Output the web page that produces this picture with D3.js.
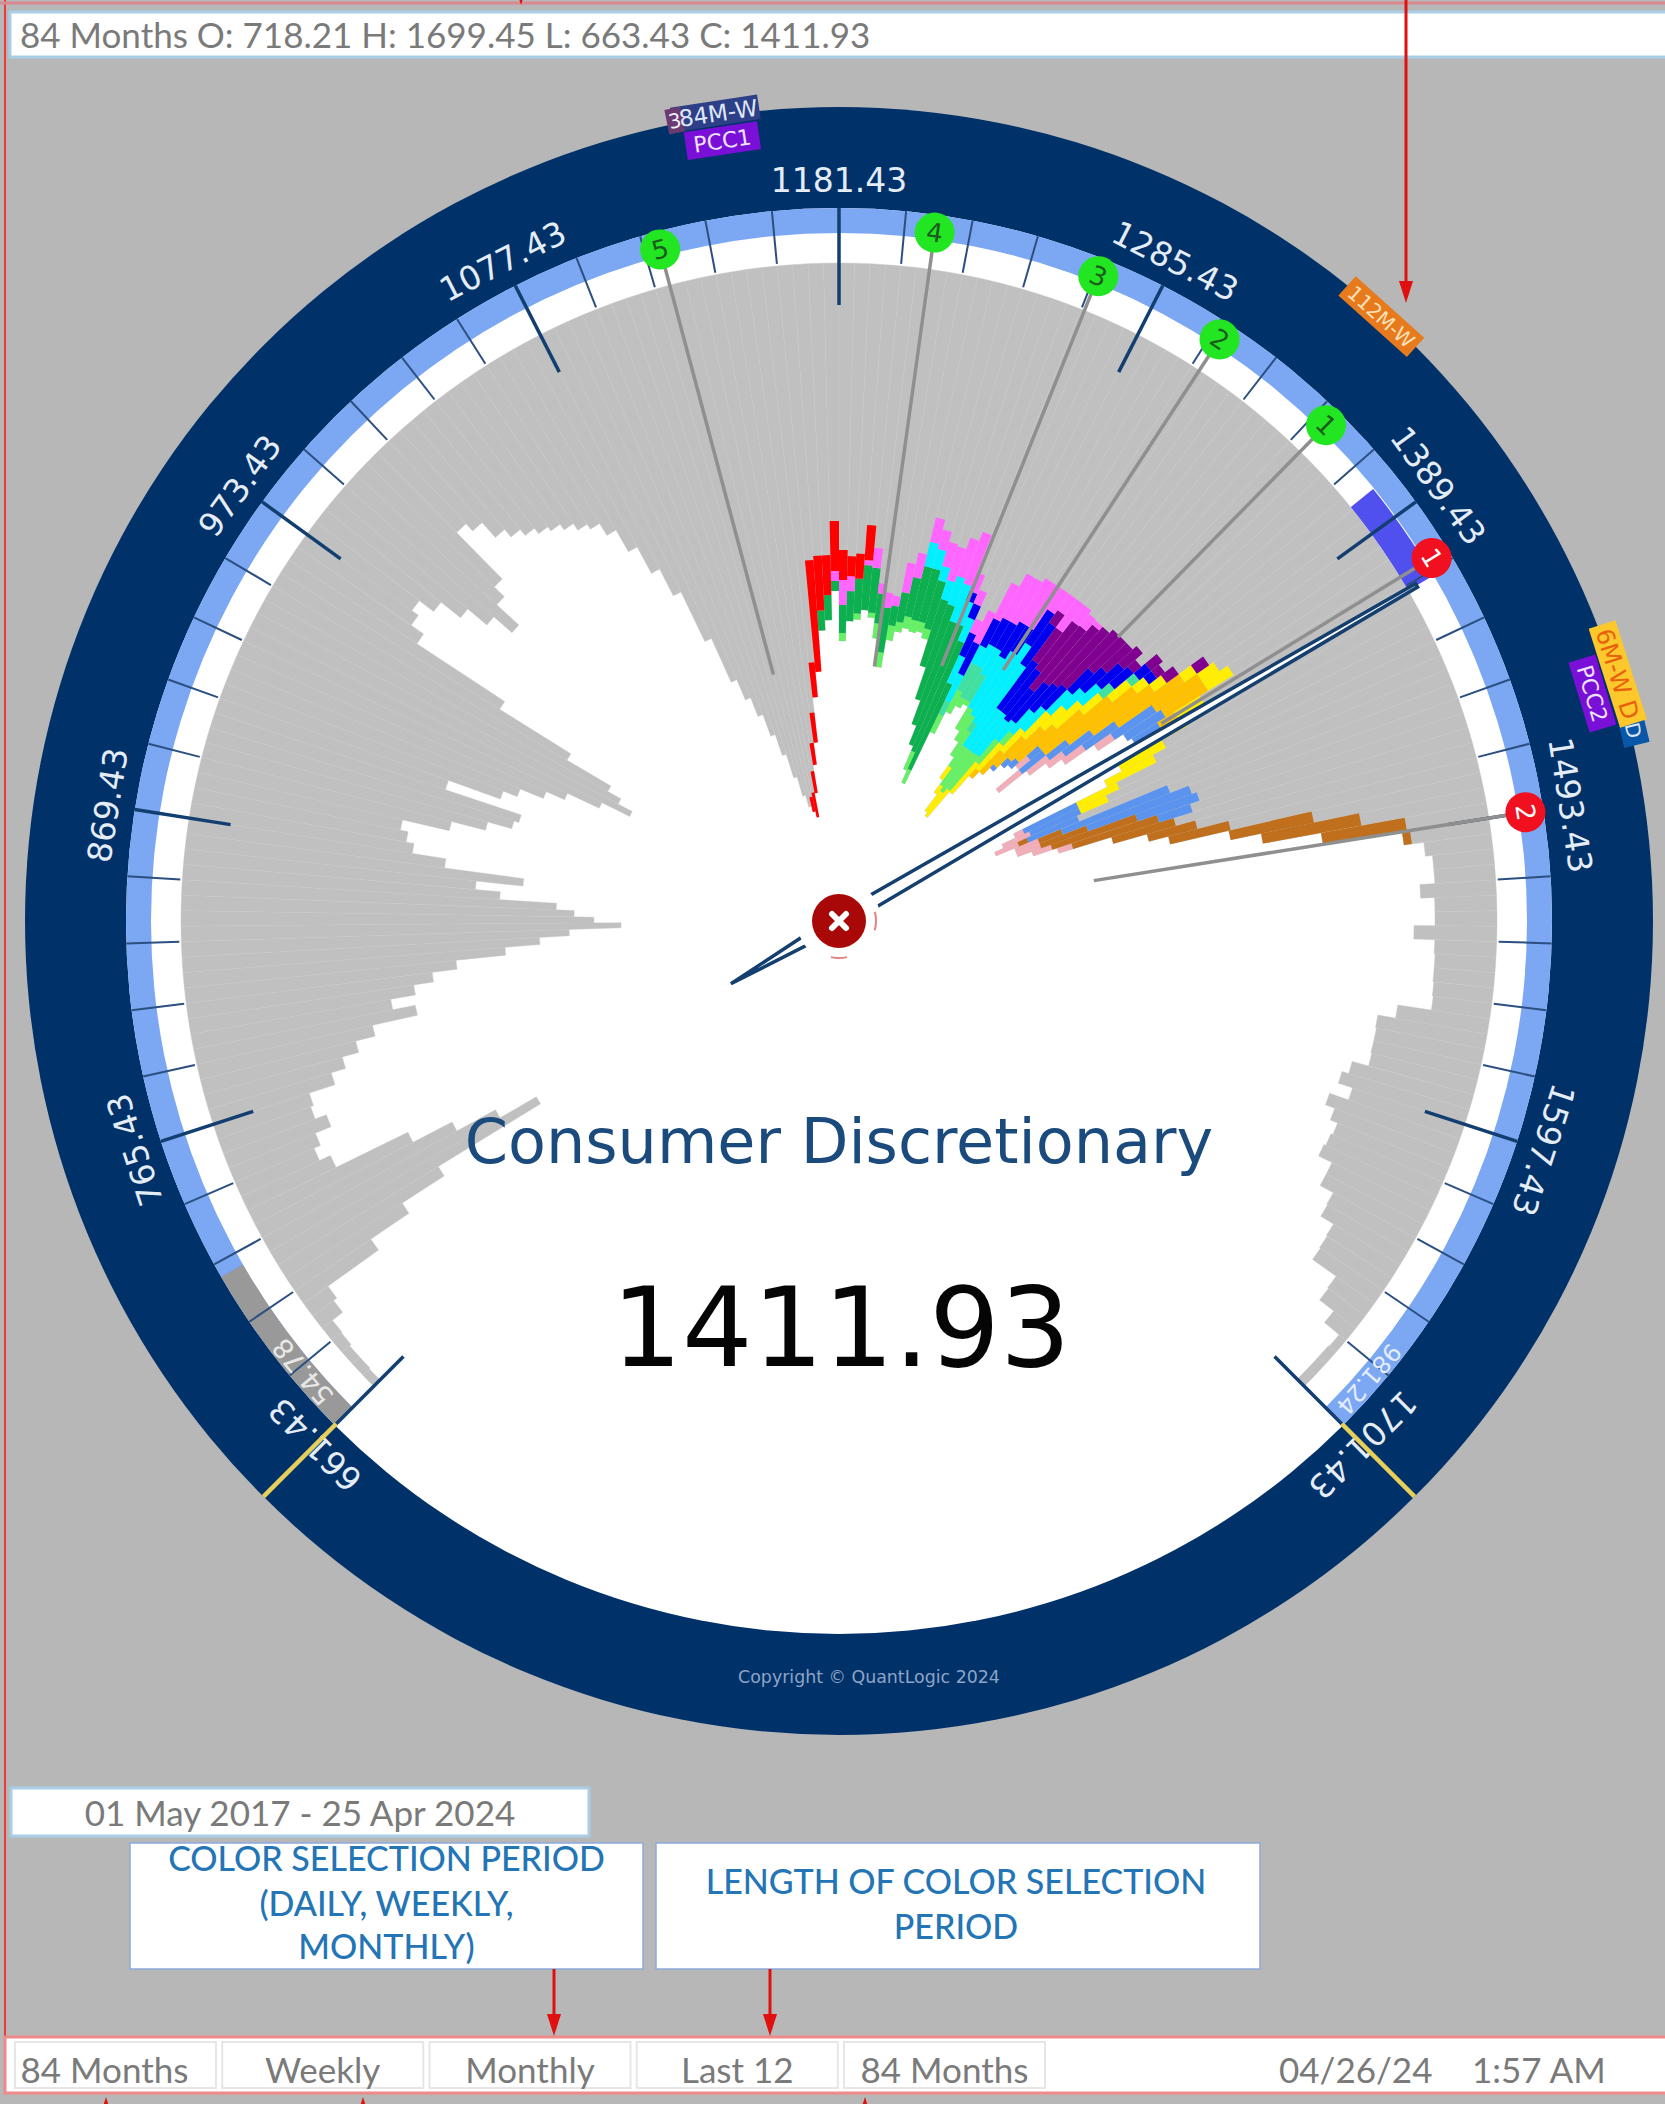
<!DOCTYPE html>
<html>
<head>
<meta charset="utf-8">
<script src="https://d3js.org/d3.v7.min.js"></script>
<style>
  html, body { margin: 0; padding: 0; background: #b7b7b7; }
  svg { display: block; }
  .ui { font-family: Lato, sans-serif; }
  .dial { font-family: "DejaVu Sans", sans-serif; }
</style>
</head>
<body>
<script>
// price range of the dial
var priceMin = 661.43;
var priceMax = 1701.43;
var lastClose = 1411.93;
var binSize = 5.2;

// labelled ticks on the dial
var majorTicks = [661.43, 765.43, 869.43, 973.43, 1077.43, 1181.43, 1285.43, 1389.43, 1493.43, 1597.43, 1701.43];

// total length of each price bin, lowest price first
var barLength = [
  9, 10, 10, 12, 13, 26, 30, 92, 138, 188,
  308, 266, 222, 178, 98, 86, 93, 110, 98, 101,
  128, 143, 160, 180, 226, 203, 228, 248, 273, 323,
  358, 388, 440, 413, 393, 375, 318, 293, 340, 260,
  226, 218, 210, 258, 293, 318, 323, 243, 298, 313,
  338, 358, 393, 424, 408, 393, 342, 258, 153, 138,
  130, 148, 173, 198, 222, 192, 178, 113, 123, 143,
  153, 161, 168, 173, 180, 188, 194, 208, 233, 263,
  293, 348, 396, 418, 438, 461, 483, 508, 528, 540,
  546, 552, 528, 500, 478, 433, 408, 367, 357, 328,
  378, 358, 356, 346, 353, 373, 401, 373, 363, 358,
  360, 358, 363, 390, 423, 448, 468, 493, 506, 448,
  423, 413, 408, 433, 443, 458, 483, 498, 518, 522,
  488, 463, 453, 443, 433, 428, 423, 453, 418, 398,
  383, 348, 318, 313, 318, 338, 358, 463, 478, 488,
  468, 468, 453, 428, 373, 338, 318, 258, 227, 168,
  88, 68, 61, 61, 76, 62, 62, 83, 62, 61,
  61, 60, 59, 93, 111, 110, 110, 109, 126, 133,
  118, 138, 128, 120, 122, 124, 109, 109, 94, 93,
  78, 77, 76, 47, 46, 28, 9, 10, 10, 10
];

// coloured period bands, each one starts at the bin given by its *From value
var salmonFrom = 136;
var salmonBand = [15, 30, 25, 20, 25, 20, 0, 0, 0, 0, 0, 10, 30, 25, 25, 25, 20, 15];
var brownFrom = 149;
var brownBand = [10, 25, 50, 90, 90, 65, 50, 62, 85, 100, 85, 8];
var cornflowerFrom = 133;
var cornflowerBand = [5, 10, 10, 15, 30, 25, 35, 40, 50, 45, 30, 0, 0, 0, 60, 55, 55, 115, 110, 65, 35];
var orangeFrom = 131;
var orangeBand = [10, 30, 40, 45, 50, 55, 85, 85, 75, 80, 55, 50, 20];
var yellowFrom = 126;
var yellowBand = [15, 10, 25, 35, 40, 35, 30, 35, 30, 35, 25, 25, 15, 15, 15, 20, 30, 30, 60, 50, 55, 45, 30];
var limeFrom = 100;
var limeBand = [8, 0, 6, 0, 5, 15, 15, 15, 10, 12, 12, 10, 10, 0, 0, 0, 0, 20, 15, 20, 25, 10, 5, 25, 30, 30, 25, 45, 50, 45, 30, 15];
var seafoamFrom = 119;
var seafoamBand = [15, 30, 35, 30, 0, 0, 10, 0, 0, 0, 0, 0, 0, 0, 0, 0, 0, 15, 10];
var greenFrom = 97;
var greenBand = [20, 25, 10, 28, 30, 35, 45, 45, 30, 45, 20, 30, 40, 55, 55, 50, 70, 100, 110, 130, 120, 95];
var cyanFrom = 110;
var cyanBand = [25, 20, 15, 20, 30, 40, 25, 25, 30, 30, 20, 25, 30, 60, 75, 95, 100, 50, 50, 45, 25, 30, 30, 30, 25, 25];
var blueFrom = 116;
var blueBand = [10, 15, 25, 35, 30, 30, 30, 40, 30, 40, 50, 60, 55, 40, 50, 35, 30, 30, 30, 30, 25, 15, 10];
var purpleFrom = 126;
var purpleBand = [15, 40, 60, 80, 75, 75, 75, 45, 35, 25, 10, 15, 10, 15, 15];
var magentaFrom = 99;
var magentaBand = [10, 25, 15, 0, 5, 20, 10, 15, 10, 30, 25, 25, 20, 25, 35, 40, 55, 20, 15, 15, 35, 40, 50, 50, 50, 50, 25, 20, 35, 20, 15, 5];
var redFrom = 90;
var redBand = [15, 25, 22, 22, 30, 35, 112, 55, 40, 50, 30, 20, 25, 35];

// numbered levels and their line lengths
var greenLevels = [1352.8, 1309.3, 1265.8, 1211.9, 1124];
var greenLevelLength = [260, 358, 383, 401, 403];
var redLevels = [1406.8, 1493.4];
var redLevelLength = [280, 400];

// start of the marker on the white ring
var rangeFrom = 1378;

var width = 1665;
var height = 2104;

// dial measures
var cx = 839;
var cy = 921;
var rBars = 658;
var rWhite = 688;
var rBlue = 713;
var rNavy = 814;

var svg = d3.select("body").append("svg")
  .attr("width", width)
  .attr("height", height);

svg.append("rect").attr("width", width).attr("height", height).attr("fill", "#b7b7b7");

// outer red frame lines
svg.append("line").attr("x1", 5).attr("x2", 5).attr("y1", 0).attr("y2", 2036).attr("stroke", "#f03a3a").attr("stroke-width", 2);
svg.append("line").attr("x1", 0).attr("x2", width).attr("y1", 3).attr("y2", 3).attr("stroke", "#d88a90").attr("stroke-width", 3);

var angle = d3.scaleLinear().domain([priceMin, priceMax]).range([-Math.PI * 0.75, Math.PI * 0.75]);
var deg = d3.scaleLinear().domain([priceMin, priceMax]).range([-135, 135]);
var radial = d3.scaleLinear().domain([0, rBars]).range([rBars, 0]);

var dial = svg.append("g").attr("class", "dial").attr("transform", `translate(${cx}, ${cy})`);
var arc = d3.arc();

// navy ring and the white disc inside
dial.append("circle").attr("r", rNavy).attr("fill", "#003169");
dial.append("circle").attr("r", rBlue).attr("fill", "#ffffff");

// light blue scale ring, its first part is grey
dial.append("path")
  .attr("d", arc({ innerRadius: rWhite, outerRadius: rBlue, startAngle: angle(priceMin), endAngle: angle(priceMax) }))
  .attr("fill", "#7ba7f3");
dial.append("path")
  .attr("d", arc({ innerRadius: rWhite, outerRadius: rBlue, startAngle: angle(priceMin), endAngle: angle(priceMin + 58) }))
  .attr("fill", "#999999");

// marker on the white ring
dial.append("path")
  .attr("d", arc({ innerRadius: rBars, outerRadius: rWhite - 1, startAngle: angle(rangeFrom), endAngle: angle(lastClose) }))
  .attr("fill", "#5050ee");

// grey bars
var barAngle = i => priceMin + i * binSize;
dial.append("g").selectAll("path")
  .data(barLength)
  .enter()
  .append("path")
  .attr("d", (d, i) => arc({
    innerRadius: radial(d),
    outerRadius: rBars,
    startAngle: angle(barAngle(i)),
    endAngle: angle(barAngle(i + 1))
  }))
  .attr("fill", "#c0c0c0")
  .attr("stroke", "#c4c4c4")
  .attr("stroke-width", 0.4);

// coloured bands, stacked from the inner end of each bar
var bandSeries = [
  { key: "salmon", color: "#f2aeb8", from: salmonFrom, values: salmonBand },
  { key: "brown", color: "#c0701c", from: brownFrom, values: brownBand },
  { key: "cornflower", color: "#5b94ee", from: cornflowerFrom, values: cornflowerBand },
  { key: "orange", color: "#ffc000", from: orangeFrom, values: orangeBand },
  { key: "yellow", color: "#ffee00", from: yellowFrom, values: yellowBand },
  { key: "lime", color: "#66f066", from: limeFrom, values: limeBand },
  { key: "seafoam", color: "#3fe0a0", from: seafoamFrom, values: seafoamBand },
  { key: "green", color: "#0db04f", from: greenFrom, values: greenBand },
  { key: "cyan", color: "#00f0ff", from: cyanFrom, values: cyanBand },
  { key: "blue", color: "#0000f0", from: blueFrom, values: blueBand },
  { key: "purple", color: "#800090", from: purpleFrom, values: purpleBand },
  { key: "magenta", color: "#ff66ff", from: magentaFrom, values: magentaBand },
  { key: "red", color: "#ff0000", from: redFrom, values: redBand }
];

var rows = barLength.map(function(d, i) {
  var row = { bin: i, total: d };
  bandSeries.forEach(function(s) {
    row[s.key] = s.values[i - s.from] || 0;
  });
  return row;
});

var stacked = d3.stack().keys(bandSeries.map(s => s.key))(rows);

stacked.forEach(function(layer, n) {
  dial.append("g").selectAll("path")
    .data(layer.filter(d => d[1] > d[0]))
    .enter()
    .append("path")
    .attr("d", d => arc({
      innerRadius: radial(d.data.total - d[0]),
      outerRadius: radial(d.data.total - d[1]),
      startAngle: angle(barAngle(d.data.bin)),
      endAngle: angle(barAngle(d.data.bin + 1))
    }))
    .attr("fill", bandSeries[n].color);
});

// small scale ticks
var minorTicks = d3.range(priceMin, priceMax + 1, binSize * 4);
dial.append("g").selectAll("line")
  .data(minorTicks)
  .enter()
  .append("line")
  .attr("transform", d => `rotate(${deg(d)})`)
  .attr("y1", -rBars - 2)
  .attr("y2", -rBlue)
  .attr("stroke", "#2b4f80")
  .attr("stroke-width", 2);

// big scale ticks and their labels
dial.append("g").selectAll("line")
  .data(majorTicks)
  .enter()
  .append("line")
  .attr("transform", d => `rotate(${deg(d)})`)
  .attr("y1", -616)
  .attr("y2", -rBlue)
  .attr("stroke", "#123f70")
  .attr("stroke-width", 3.5);

dial.append("g").selectAll("text")
  .data(majorTicks)
  .enter()
  .append("text")
  .attr("transform", d => `rotate(${deg(d)}) translate(0, ${-rBlue - 16})`)
  .attr("text-anchor", "middle")
  .attr("font-size", 33)
  .attr("fill", "#e4ecf6")
  .text(d => d.toFixed(2));

// yellow end lines
dial.append("g").selectAll("line")
  .data([priceMin, priceMax])
  .enter()
  .append("line")
  .attr("transform", d => `rotate(${deg(d)})`)
  .attr("y1", -rBlue + 2)
  .attr("y2", -rNavy)
  .attr("stroke", "#e8cf5a")
  .attr("stroke-width", 4.5);

// small period values on the ring ends
dial.append("text")
  .attr("transform", `rotate(${deg(priceMin + 19)}) translate(0, ${-rWhite - 3})`)
  .attr("text-anchor", "middle")
  .attr("font-size", 27)
  .attr("fill", "#e8e8e8")
  .text("54.78");
dial.append("text")
  .attr("transform", `rotate(${deg(priceMax - 16)}) translate(0, ${-rWhite - 4})`)
  .attr("text-anchor", "middle")
  .attr("font-size", 24)
  .attr("fill", "#e4edff")
  .text("981.24");

// level lines and numbered circles
function levelMark(price, length, color, textColor, label) {
  var g = dial.append("g").attr("transform", `rotate(${deg(price)})`);
  g.append("line")
    .attr("y1", -radial(length))
    .attr("y2", -695)
    .attr("stroke", "#8f8f8f")
    .attr("stroke-width", 3.5);
  g.append("circle").attr("cy", -695).attr("r", 20).attr("fill", color);
  g.append("text")
    .attr("y", -695 + 9)
    .attr("text-anchor", "middle")
    .attr("font-size", 26)
    .attr("fill", textColor)
    .text(label);
}

// needle under the level lines
var needle = dial.append("g").attr("transform", `rotate(${deg(lastClose)})`);
needle.append("path")
  .attr("d", d3.line()([[0, 125], [-7, 0], [-2, -668], [2, -668], [7, 0]]) + "Z")
  .attr("fill", "#ffffff")
  .attr("stroke", "#143f6e")
  .attr("stroke-width", 3.5);

greenLevels.forEach(function(d, i) {
  levelMark(d, greenLevelLength[i], "#22e622", "#1c5c1c", String(i + 1));
});
redLevels.forEach(function(d, i) {
  levelMark(d, redLevelLength[i], "#f01020", "#ffffff", String(i + 1));
});

// period badges on the outer edge of the ring
function badge(rot, r, w, h, fill, color, label, size) {
  var g = dial.append("g").attr("transform", `rotate(${rot}) translate(0, ${-r})`);
  g.append("rect").attr("x", -w / 2).attr("y", -h / 2).attr("width", w).attr("height", h).attr("fill", fill);
  g.append("text")
    .attr("y", size * 0.36)
    .attr("text-anchor", "middle")
    .attr("font-size", size)
    .attr("fill", color)
    .text(label);
  return g;
}

badge(41.9, 812, 92, 26, "#e67a1c", "#f8e0b8", "112M-W", 20);
badge(-8.7, 817, 88, 25, "#2d3f86", "#dfe6f6", "", 23);
badge(-11.6, 817, 16, 25, "#6a3a70", "#eef0f8", "3", 20);
// the 84M-W text runs over the small box
badge(-8.5, 817, 88, 25, "none", "#dfe6f6", "84M-W", 23);
badge(-8.5, 789, 74, 28, "#7a10d8", "#efe4ff", "PCC1", 22);
badge(76.5, 817, 30, 26, "#0a56a8", "#dfe6f6", "D", 20);
badge(72.4, 817, 104, 28, "#fcc82c", "#e8600c", "6M-W D", 24);
badge(73.2, 787, 73, 28, "#7a10d8", "#efe4ff", "PCC2", 22);

// white disc and close button in the centre
dial.append("circle").attr("r", 42).attr("fill", "#ffffff");
dial.append("path")
  .attr("d", arc({ innerRadius: 36, outerRadius: 38, startAngle: Math.PI * 0.42, endAngle: Math.PI * 0.58 }))
  .attr("fill", "#e88080");
dial.append("path")
  .attr("d", arc({ innerRadius: 36, outerRadius: 38, startAngle: Math.PI * 0.93, endAngle: Math.PI * 1.07 }))
  .attr("fill", "#e88080");
dial.append("circle").attr("r", 27).attr("fill", "#a80808");
dial.append("path")
  .attr("d", "M-7,-7L7,7M-7,7L7,-7")
  .attr("stroke", "#ffffff")
  .attr("stroke-width", 6)
  .attr("stroke-linecap", "round");

// centre texts
svg.append("text")
  .attr("class", "dial")
  .attr("x", 839)
  .attr("y", 1163)
  .attr("text-anchor", "middle")
  .attr("font-size", 62)
  .attr("fill", "#1b4a7c")
  .text("Consumer Discretionary");

svg.append("text")
  .attr("class", "dial")
  .attr("x", 841)
  .attr("y", 1366)
  .attr("text-anchor", "middle")
  .attr("font-size", 111)
  .attr("fill", "#050505")
  .text(lastClose.toFixed(2));

svg.append("text")
  .attr("class", "dial")
  .attr("x", 869)
  .attr("y", 1683)
  .attr("text-anchor", "middle")
  .attr("font-size", 17.4)
  .attr("fill", "#8ea4c6")
  .text("Copyright © QuantLogic 2024");

// header bar
svg.append("rect").attr("x", 10).attr("y", 12).attr("width", width).attr("height", 45)
  .attr("fill", "#ffffff").attr("stroke", "#a9cfe6").attr("stroke-width", 3);
svg.append("text").attr("class", "ui").attr("x", 20).attr("y", 48)
  .attr("font-size", 35).attr("fill", "#7a7a7a")
  .text("84 Months O: 718.21 H: 1699.45 L: 663.43 C: 1411.93");

// date box
svg.append("rect").attr("x", 11).attr("y", 1788).attr("width", 578).attr("height", 48)
  .attr("fill", "#ffffff").attr("stroke", "#a9cfe6").attr("stroke-width", 3);
svg.append("text").attr("class", "ui").attr("x", 300).attr("y", 1826).attr("text-anchor", "middle")
  .attr("font-size", 35).attr("fill", "#7a7a7a")
  .text("01 May 2017 - 25 Apr 2024");

// callouts
var calloutBoxes = [
  { x: 130, w: 513, lines: ["COLOR SELECTION PERIOD", "(DAILY, WEEKLY,", "MONTHLY)"], ys: [1871, 1916, 1959] },
  { x: 656, w: 604, lines: ["LENGTH OF COLOR SELECTION", "PERIOD"], ys: [1894, 1939] }
];
calloutBoxes.forEach(function(b) {
  svg.append("rect").attr("x", b.x).attr("y", 1843).attr("width", b.w).attr("height", 126)
    .attr("fill", "#ffffff").attr("stroke", "#8faadc").attr("stroke-width", 1.5);
  b.lines.forEach(function(t, i) {
    svg.append("text").attr("class", "ui").attr("x", b.x + b.w / 2 - (b.x > 600 ? 2 : 0)).attr("y", b.ys[i]).attr("text-anchor", "middle")
      .attr("font-size", 34).attr("font-weight", 500).attr("fill", "#2475b5").text(t);
  });
});

// bottom bar
svg.append("rect").attr("x", 5).attr("y", 2037).attr("width", width).attr("height", 56)
  .attr("fill", "#ffffff").attr("stroke", "#f08a8a").attr("stroke-width", 3);

var buttonLabels = ["84 Months", "Weekly", "Monthly", "Last 12", "84 Months"];
var buttonX = d3.scaleBand().domain(d3.range(5)).range([15, 1045]).paddingInner(0.03);
buttonLabels.forEach(function(t, i) {
  svg.append("rect").attr("x", buttonX(i)).attr("y", 2042).attr("width", buttonX.bandwidth()).attr("height", 46)
    .attr("fill", "#ffffff").attr("stroke", "#e6e6e6").attr("stroke-width", 2);
  // first label sits further left in its button
  svg.append("text").attr("class", "ui").attr("x", buttonX(i) + buttonX.bandwidth() / 2 - (i === 0 ? 11 : 0)).attr("y", 2083).attr("text-anchor", "middle")
    .attr("font-size", 35).attr("fill", "#7a7a7a").text(t);
});
svg.append("text").attr("class", "ui").attr("x", 1279).attr("y", 2083)
  .attr("font-size", 35).attr("fill", "#7a7a7a").text("04/26/24");
svg.append("text").attr("class", "ui").attr("x", 1472).attr("y", 2083)
  .attr("font-size", 35).attr("fill", "#7a7a7a").text("1:57 AM");

// red annotation arrows
function arrow(x, y1, y2) {
  var dir = y2 > y1 ? 1 : -1;
  svg.append("line").attr("x1", x).attr("x2", x).attr("y1", y1).attr("y2", y2 - dir * 14)
    .attr("stroke", "#e01010").attr("stroke-width", 3);
  svg.append("path")
    .attr("d", d3.line()([[x - 7, y2 - dir * 22], [x + 7, y2 - dir * 22], [x, y2]]) + "Z")
    .attr("fill", "#e01010");
}
arrow(1406, 0, 303);
arrow(554, 1969, 2036);
arrow(770, 1969, 2036);
arrow(106, 2118, 2097);
arrow(363, 2118, 2097);
arrow(865, 2118, 2097);
arrow(521, -20, 5);
</script>
</body>
</html>
